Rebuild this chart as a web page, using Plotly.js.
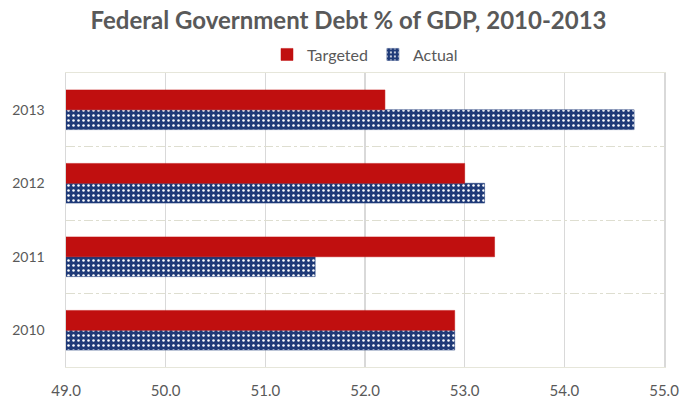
<!DOCTYPE html>
<html>
<head>
<meta charset="utf-8">
<script src="https://cdn.plot.ly/plotly-3.0.1.min.js"></script>
<style>html,body{margin:0;padding:0;background:#fff;}#chart{width:697px;height:406px;}</style>
</head>
<body>
<div id="chart"></div>
<script>
const years = ["2010", "2011", "2012", "2013"];
const targeted = [52.9, 53.3, 53.0, 52.2];
const actual = [52.9, 51.5, 53.2, 54.7];
const xTicks = [49, 50, 51, 52, 53, 54, 55];
const baseValue = 49;

const FONT = "Lato, 'Open Sans', sans-serif";

const data = [
  {
    type: "bar", orientation: "h", name: "Actual",
    y: years, x: actual.map(v => v - baseValue), base: baseValue,
    marker: {
      color: "#1f3a78",
      line: {color: "#1f3a78", width: 0.5},
      pattern: {shape: ".", bgcolor: "#1f3a78", fgcolor: "#ffffff", size: 5, solidity: 0.2, fillmode: "replace"}
    },
    legendrank: 2
  },
  {
    type: "bar", orientation: "h", name: "Targeted",
    y: years, x: targeted.map(v => v - baseValue), base: baseValue,
    marker: {color: "#c00f0f", line: {color: "#c00f0f", width: 0.5}},
    legendrank: 1
  }
];

const layout = {
  width: 697, height: 406,
  margin: {l: 66, r: 33, t: 73, b: 39},
  paper_bgcolor: "#ffffff", plot_bgcolor: "#ffffff",
  font: {family: FONT, color: "#595959", size: 13},
  title: {
    text: "<b>Federal Government Debt % of GDP, 2010-2013</b>",
    font: {family: FONT, size: 24, color: "#595959"},
    x: 0.5, xanchor: "center", y: 0.95, yanchor: "middle"
  },
  barmode: "group",
  bargap: 0.46,
  bargroupgap: 0,
  showlegend: true,
  legend: {
    orientation: "h", x: 0.5, xanchor: "center", y: 1.005, yanchor: "bottom",
    font: {family: FONT, size: 16, color: "#595959"},
    itemwidth: 30, tracegroupgap: 0
  },
  xaxis: {
    range: [49, 55],
    tickvals: xTicks,
    ticktext: xTicks.map(v => v.toFixed(1)),
    showgrid: true, gridcolor: "#d9d9d9", gridwidth: 1.5,
    zeroline: false,
    showline: true, mirror: true, linecolor: "#e6e6da", linewidth: 1,
    ticks: "", ticklabelstandoff: 10,
    tickfont: {family: FONT, size: 15, color: "#595959"}
  },
  yaxis: {
    type: "category",
    categoryorder: "array", categoryarray: years,
    tickson: "boundaries",
    showgrid: true, gridcolor: "#deded0", griddash: "dashdot", gridwidth: 1,
    zeroline: false,
    showline: true, mirror: true, linecolor: "#d9d9d9", linewidth: 1.5,
    ticks: "",
    ticklabelstandoff: 17,
    tickfont: {family: FONT, size: 14, color: "#595959"}
  }
};

Plotly.newPlot("chart", data, layout, {displayModeBar: false, staticPlot: true});
</script>
</body>
</html>
